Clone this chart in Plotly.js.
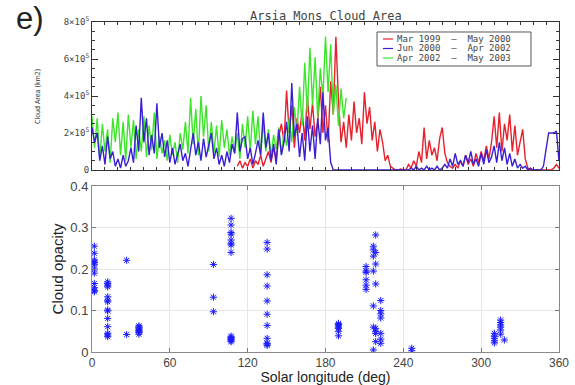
<!DOCTYPE html>
<html><head><meta charset="utf-8">
<script src="https://cdn.plot.ly/plotly-3.0.1.min.js"></script>
<style>html,body{margin:0;padding:0;background:#fff}#chart{width:575px;height:385px}</style>
</head><body><div id="chart"></div>
<script>
// ---- Top panel: cloud area (units of 1e5 km2) vs solar longitude ----
const lsGreen = [0,2,4,6,8,10,12,14,16,18,20,22,24,26,28,30,32,34,36,38,40,42,44,46,48,50,52,54,56,58,60,62,64,66,68,70,72,74,76,78,80,82,84,86,88,90,92,94,96,98,100,102,104,106,108,110,112,114,116,118,120,122,124,126,128,130,132,134,136,138,140,142,144,146,148,150,152,154,156,158,160,162,164,166,168,170,172,174,176,178,180,182,184,186,188,190,192,194,196];
const areaGreen = [2.9,1.2,2.8,0.6,2.5,1.0,2.2,0.4,2.8,1.5,3.1,0.8,2.6,0.5,3.0,1.2,2.7,0.6,2.2,1.0,2.9,0.7,2.4,1.1,3.1,0.6,1.8,0.9,1.6,0.5,1.9,0.8,1.5,0.4,2.0,1.1,2.6,0.9,3.9,1.4,3.3,0.8,4.0,1.8,3.5,1.0,2.6,0.9,2.4,0.7,2.7,1.2,2.2,0.8,1.8,0.9,2.0,0.6,2.5,1.2,2.9,1.0,3.2,1.4,2.9,0.8,2.6,1.0,2.2,0.7,1.9,1.1,2.3,0.9,2.0,1.3,2.8,1.5,3.4,2.0,4.5,2.4,5.8,3.1,6.6,3.5,6.1,2.8,5.5,3.9,7.2,4.2,6.8,3.0,4.6,2.4,4.4,2.8,3.9];

const lsBlue = [0,2,4,6,8,10,12,14,16,18,20,22,24,26,28,30,32,34,36,38,40,42,44,46,48,50,52,54,56,58,60,62,64,66,68,70,72,74,76,78,80,82,84,86,88,90,92,94,96,98,100,102,104,106,108,110,112,114,116,118,120,122,124,126,128,130,132,134,136,138,140,142,144,146,148,150,152,154,156,158,160,162,164,166,168,170,172,174,176,178,180,182,184,186,188,190,192,194,196,198,200,202,204,206,208,210,212,214,216,218,220,222,224,226,228,230,232,234,236,238,240,242,244,246,248,250,252,254,256,258,260,262,264,266,268,270,272,274,276,278,280,282,284,286,288,290,292,294,296,298,300,302,304,306,308,310,312,314,316,318,320,322,324,326,328,330,332,334,336,338,340,342,344,346,348,350,352,354,356,358,360];
const areaBlue = [2.3,1.5,2.0,0.5,1.3,0.3,1.8,0.6,1.0,0.2,0.6,0.1,0.8,0.2,0.5,1.2,0.4,2.4,1.0,3.9,1.5,2.8,0.8,1.9,0.9,3.6,1.2,2.0,0.7,1.6,0.4,1.2,0.3,0.8,1.4,0.5,0.9,0.2,1.0,2.0,0.8,1.5,0.5,1.7,0.7,1.3,2.0,0.6,1.2,0.3,0.8,0.2,1.0,0.4,1.4,0.9,3.1,1.0,1.7,1.8,0.6,1.2,0.3,0.9,1.6,0.8,3.1,1.2,2.0,0.5,1.4,0.3,2.2,0.8,1.5,2.6,1.0,4.7,1.8,2.5,0.7,2.0,0.5,2.9,1.0,2.4,0.6,2.8,1.4,4.2,1.6,2.3,0.4,0.0,0,0,0,0,0,0,0,0,0,0,0,0,0,0,0,0,0,0,0,0,0,0,0,0,0,0,0,0,0,0.1,0.0,0.2,0.0,0.1,0.0,0.2,0.0,0.1,0.0,0.2,0.0,0.1,0.3,0.1,0.6,0.2,0.9,0.3,0.5,0.2,0.8,0.4,1.0,0.3,0.6,0.2,0.9,0.3,1.1,0.4,0.7,1.3,0.4,1.5,0.5,1.2,0.3,0.9,0.2,0.6,0.1,0.3,0.1,0.2,0.0,0.1,0.0,0.0,0.0,0.0,0.2,1.0,2.0,2.0,2.0,2.1,0.5];

const lsRed = [112,114,116,118,120,122,124,126,128,130,132,134,136,138,140,142,144,146,148,150,152,154,156,158,160,162,164,166,168,170,172,174,176,178,180,182,184,186,188,190,192,194,196,198,200,202,204,206,208,210,212,214,216,218,220,222,224,226,228,230,232,234,236,238,240,242,244,246,248,250,252,254,256,258,260,262,264,266,268,270,272,274,276,278,280,282,284,286,288,290,292,294,296,298,300,302,304,306,308,310,312,314,316,318,320,322,324,326,328,330,332,334,336,338,340,342,344,346,348,350,352,354,356,358,360];
const areaRed = [0.2,0.5,0.1,0.4,0.2,0.6,0.1,0.5,0.3,0.8,0.2,0.6,1.0,0.4,1.2,0.6,1.8,2.5,1.5,4.3,2.0,3.5,1.2,2.8,2.0,3.2,1.6,4.0,2.2,3.6,1.8,2.6,4.5,2.0,3.5,1.5,4.8,3.0,7.2,3.8,1.5,2.6,1.2,3.0,1.6,3.7,2.0,2.8,1.4,4.2,2.5,3.4,1.6,2.6,1.0,2.2,1.5,0.5,0.8,0.2,0.1,0.0,0.0,0.05,0.0,0.0,0.3,0.1,0.5,0.2,1.0,0.4,2.3,0.6,1.6,0.8,1.2,0.5,1.7,2.3,0.9,0.4,0.2,0.1,0.3,0.1,0.5,0.2,0.8,0.3,0.6,0.2,0.9,0.4,1.0,0.5,1.3,0.6,1.5,2.9,1.2,3.1,1.0,2.5,1.6,3.0,1.0,2.4,0.8,1.5,2.2,0.6,0.1,0.0,0.0,0.0,0.0,0.0,0.0,0.0,0.0,0.0,0.1,0.3,0.1];

const yTickVals = [0, 2e5, 4e5, 6e5, 8e5];
const yTickText = ['0', '2×10<sup>5</sup>', '4×10<sup>5</sup>', '6×10<sup>5</sup>', '8×10<sup>5</sup>'];
const legendNames = ['Mar 1999  —  May 2000', 'Jun 2000  —  Apr 2002', 'Apr 2002  —  May 2003'];
const legendColors = ['#e8202c', '#3a1fd6', '#3ce52a'];

// ---- Bottom panel: cloud opacity vs solar longitude ----
const lsOpacity = [1.8,1.8,1.8,1.8,1.8,1.8,1.8,1.8,1.8,1.8,1.8,1.8,
 12.1,12.1,12.1,12.1,12.1,12.1,12.1,12.1,12.1,12.1,12.1,12.1,12.1,12.1,
 26.7,26.7,
 36.2,36.2,36.2,36.2,36.2,36.2,36.2,36.2,
 93.6,93.6,93.6,
 107.2,107.2,107.2,107.2,107.2,107.2,107.2,107.2,107.2,107.2,107.2,107.2,107.2,107.2,
 135,135,135,135,135,135,135,135,135,135,135,
 190,190,190,190,190,190,190,
 211.3,211.3,211.3,211.3,211.3,211.3,
 216.9,216.9,216.9,216.9,216.9,216.9,216.9,
 218.7,218.7,218.7,218.7,218.7,218.7,218.7,218.7,
 222.6,222.6,222.6,222.6,222.6,222.6,222.6,
 246.5,246.5,
 310.2,310.2,310.2,310.2,310.2,
 315,315,315,315,315,315,
 317.9];
const opacity = [0.255,0.238,0.222,0.217,0.215,0.21,0.20,0.19,0.165,0.155,0.148,0.145,
 0.169,0.165,0.161,0.157,0.133,0.125,0.121,0.101,0.099,0.081,0.061,0.045,0.041,0.037,
 0.221,0.042,
 0.063,0.06,0.058,0.055,0.052,0.05,0.047,0.043,
 0.211,0.132,0.097,
 0.322,0.306,0.288,0.284,0.27,0.262,0.258,0.24,0.038,0.035,0.032,0.03,0.027,0.025,
 0.264,0.248,0.186,0.159,0.123,0.091,0.064,0.033,0.021,0.019,0.016,
 0.069,0.066,0.063,0.06,0.057,0.05,0.039,
 0.206,0.195,0.192,0.174,0.161,0.151,
 0.255,0.246,0.231,0.195,0.111,0.06,0.005,
 0.282,0.24,0.212,0.164,0.057,0.049,0.045,0.025,
 0.124,0.10,0.092,0.082,0.045,0.031,0.021,
 0.009,0.003,
 0.045,0.038,0.033,0.027,0.022,
 0.077,0.071,0.065,0.06,0.053,0.043,
 0.029];
const xTickVals = [0, 60, 120, 180, 240, 300, 360];
const yTickVals2 = [0, 0.1, 0.2, 0.3, 0.4];

const scale = v => v.map(a => a * 1e5);

const red = {x: lsRed, y: scale(areaRed), name: legendNames[0], type: 'scatter', mode: 'lines',
   line: {color: legendColors[0], width: 1.4}, xaxis: 'x', yaxis: 'y', showlegend: false};
const blue = {x: lsBlue, y: scale(areaBlue), name: legendNames[1], type: 'scatter', mode: 'lines',
   line: {color: legendColors[1], width: 1.4}, xaxis: 'x', yaxis: 'y', showlegend: false};
const green = {x: lsGreen, y: scale(areaGreen), name: legendNames[2], type: 'scatter', mode: 'lines',
   line: {color: legendColors[2], width: 1.4}, xaxis: 'x', yaxis: 'y', showlegend: false};
const stars = {x: lsOpacity, y: opacity, type: 'scatter', mode: 'markers', showlegend: false,
   marker: {symbol: 'asterisk-open', size: 6, color: '#1a1aff', line: {color: '#1a1aff', width: 1}},
   xaxis: 'x2', yaxis: 'y2'};

// Legend box (compact, drawn in paper coordinates)
const legX0 = 0.6103, legX1 = 0.940, legY0 = 0.8667, legY1 = 0.9697;
const legRowY = [0.9485, 0.9197, 0.8909];
const shapes = [{type: 'rect', xref: 'paper', yref: 'paper', x0: legX0, x1: legX1, y0: legY0, y1: legY1,
  line: {color: '#555', width: 1}, fillcolor: '#fff', layer: 'above'}];
const annotations = [
  {text: 'Arsia Mons Cloud Area', xref: 'paper', yref: 'paper', x: 0.5, y: 1.018,
   xanchor: 'center', yanchor: 'middle', showarrow: false,
   font: {size: 12, family: 'DejaVu Sans Mono', color: '#444'}},
  {text: 'e)', xref: 'paper', yref: 'paper', x: -0.133, y: 1.012, xanchor: 'center',
   yanchor: 'middle', showarrow: false, font: {size: 31, color: '#222'}},
  {text: 'Cloud Area (km2)', xref: 'paper', yref: 'paper', x: -0.1156, y: 0.773,
   xanchor: 'center', yanchor: 'middle', textangle: -90, showarrow: false,
   font: {size: 7, family: 'Liberation Sans Narrow, DejaVu Sans Condensed, Liberation Sans', color: '#333'}}
];
legendNames.forEach((nm, i) => {
  shapes.push({type: 'line', xref: 'paper', yref: 'paper', x0: 0.623, x1: 0.6445,
    y0: legRowY[i], y1: legRowY[i], line: {color: legendColors[i], width: 1.2}, layer: 'above'});
  annotations.push({text: nm, xref: 'paper', yref: 'paper', x: 0.652, y: legRowY[i],
    xanchor: 'left', yanchor: 'middle', showarrow: false, borderpad: 0,
    font: {size: 9, family: 'DejaVu Sans Mono', color: '#444'}});
});

const layout = {
  width: 575, height: 385,
  margin: {l: 92, r: 16, t: 22, b: 33},
  paper_bgcolor: '#fff', plot_bgcolor: '#fff',
  font: {family: 'Liberation Sans, Arial, sans-serif', color: '#333'},
  showlegend: false,
  xaxis: {domain: [0, 1], anchor: 'y', range: [0, 360], showticklabels: false,
    ticks: 'inside', dtick: 10, tick0: 0, ticklen: 3, tickcolor: '#333', showline: true,
    linecolor: '#333', linewidth: 1, mirror: 'ticks', showgrid: false, zeroline: false},
  yaxis: {domain: [0.5515, 1], anchor: 'x', range: [0, 8e5], tickmode: 'array',
    tickvals: yTickVals, ticktext: yTickText, ticks: 'inside', ticklen: 6, tickcolor: '#333',
    minor: {dtick: 5e4, tick0: 0, ticks: 'inside', ticklen: 3, tickcolor: '#333'},
    showline: true, linecolor: '#333', linewidth: 1, mirror: 'ticks', showgrid: false,
    zeroline: false, tickfont: {size: 9, family: 'DejaVu Sans Mono', color: '#444'}},
  xaxis2: {domain: [0, 1], anchor: 'y2', range: [0, 360], tickmode: 'array', tickvals: xTickVals,
    ticks: 'inside', ticklen: 4, tickcolor: '#777', showline: true, linecolor: '#8a8a8a',
    mirror: 'ticks', showgrid: true, gridcolor: '#e6e6e6', zeroline: false,
    tickfont: {size: 12, color: '#444'},
    title: {text: 'Solar longitude (deg)', font: {size: 14, color: '#222'}, standoff: 6}},
  yaxis2: {domain: [0, 0.503], anchor: 'x2', range: [0, 0.4], tickmode: 'array', tickvals: yTickVals2,
    ticktext: ['0', '0.1', '0.2', '0.3', '0.4'],
    ticks: 'inside', ticklen: 4, tickcolor: '#777', showline: true, linecolor: '#8a8a8a',
    mirror: 'ticks', showgrid: true, gridcolor: '#e6e6e6', zeroline: false,
    tickfont: {size: 13, color: '#444'},
    title: {text: 'Cloud opacity', font: {size: 15, color: '#222'}, standoff: 3}},
  shapes: shapes,
  annotations: annotations
};

Plotly.newPlot('chart', [red, green, blue, stars], layout, {displayModeBar: false, staticPlot: true});
</script>
</body></html>
